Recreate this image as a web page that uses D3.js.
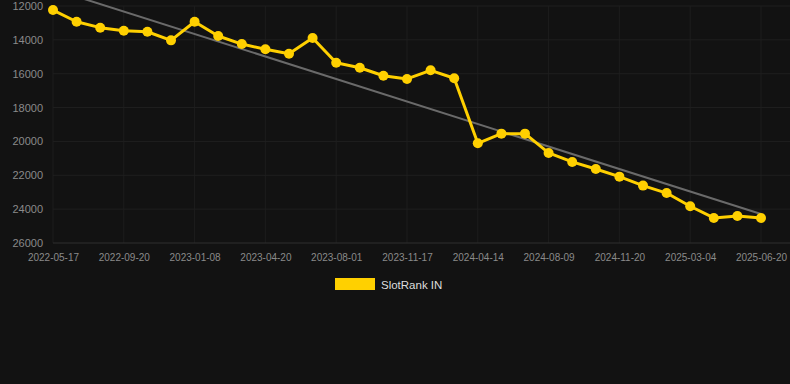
<!DOCTYPE html>
<html>
<head>
<meta charset="utf-8">
<script src="https://cdn.jsdelivr.net/npm/d3@7"></script>
<style>
  html, body { margin: 0; padding: 0; background: #121212; }
  svg { display: block; font-family: "Liberation Sans", Arial, sans-serif; }
</style>
</head>
<body>
<svg id="chart" width="790" height="384"></svg>
<script>
"use strict";

const dates = [
   '2022-05-17', '2022-06-28', '2022-08-09', '2022-09-20', '2022-10-25', '2022-12-01',
   '2023-01-08', '2023-02-12', '2023-03-18', '2023-04-20', '2023-05-25', '2023-06-28',
   '2023-08-01', '2023-09-05', '2023-10-12', '2023-11-17', '2024-01-05', '2024-02-25',
   '2024-04-14', '2024-05-23', '2024-07-01', '2024-08-09', '2024-09-12', '2024-10-16',
   '2024-11-20', '2024-12-24', '2025-01-28', '2025-03-04', '2025-04-08', '2025-05-14',
   '2025-06-20'
]
const ranks = [
   12240, 12930, 13280, 13460, 13520, 14030,
   12930, 13770, 14250, 14560, 14820, 13890,
   15350, 15650, 16120, 16310, 15800, 16270,
   20110, 19540, 19540, 20680, 21210, 21630,
   22080, 22610, 23050, 23830, 24520, 24400,
   24520
]
const y_ticks = [12000, 14000, 16000, 18000, 20000, 22000, 24000, 26000]
const series_name = 'SlotRank IN'

const m_left = 53, m_right = 761, m_top = 6, m_bottom = 243

const x = d3.scalePoint()
   .domain(dates)
   .range([m_left, m_right])

const y = d3.scaleLinear()
   .domain([12000, 26000])
   .range([m_top, m_bottom])

const svg = d3.select('#chart')

svg.append('rect')
   .attr('width', 790).attr('height', 384)
   .attr('fill', '#121212')

// grid
const x_labels = dates.filter((d, i) => i % 3 == 0)
svg.append('g')
   .selectAll('line')
   .data(x_labels)
   .enter().append('line')
      .attr('x1', d => x(d)).attr('x2', d => x(d))
      .attr('y1', m_top).attr('y2', m_bottom)
      .attr('stroke', '#1d1d1d')
svg.append('g')
   .selectAll('line')
   .data(y_ticks)
   .enter().append('line')
      .attr('x1', m_left).attr('x2', 790)
      .attr('y1', d => y(d)).attr('y2', d => y(d))
      .attr('stroke', d => d == 26000 ? '#2e2e2e' : '#1f1f1f')

// axes
let y_axis = svg.append('g')
   .attr('transform', `translate(${m_left}, 0)`)
   .call(d3.axisLeft(y).tickValues(y_ticks).tickFormat(d3.format('d')).tickSize(0).tickPadding(10))
y_axis.select('.domain').remove()
y_axis.selectAll('text')
   .attr('fill', '#8a8a8a')
   .style('font-size', '11px')

let x_axis = svg.append('g')
   .attr('transform', `translate(0, ${m_bottom})`)
   .call(d3.axisBottom(x).tickValues(x_labels).tickSize(0).tickPadding(11))
x_axis.select('.domain').remove()
x_axis.selectAll('text')
   .attr('fill', '#8a8a8a')
   .style('font-size', '10px')

// trend line (least squares over index)
const n = ranks.length
const mx = d3.mean(d3.range(n)), my = d3.mean(ranks)
const slope = d3.sum(ranks, (v, i) => (i - mx) * (v - my)) / d3.sum(d3.range(n), i => (i - mx) ** 2)
const icept = my - slope * mx
svg.append('line')
   .attr('x1', x(dates[0])).attr('y1', y(icept))
   .attr('x2', x(dates[n - 1])).attr('y2', y(icept + slope * (n - 1)))
   .attr('stroke', '#6a6a6a')
   .attr('stroke-width', 2)

// series
const line = d3.line()
   .x((d, i) => x(dates[i]))
   .y(d => y(d))
svg.append('path')
   .datum(ranks)
   .attr('fill', 'none')
   .attr('stroke', '#ffd000')
   .attr('stroke-width', 3)
   .attr('stroke-linejoin', 'round')
   .attr('d', line)
svg.append('g')
   .selectAll('circle')
   .data(ranks)
   .enter().append('circle')
      .attr('cx', (d, i) => x(dates[i]))
      .attr('cy', d => y(d))
      .attr('r', 5)
      .attr('fill', '#ffd000')

// legend
svg.append('rect')
   .attr('x', 335).attr('y', 278)
   .attr('width', 40).attr('height', 12)
   .attr('fill', '#ffd000')
svg.append('text')
   .attr('x', 381).attr('y', 288.5)
   .attr('fill', '#dddddd')
   .style('font-size', '11.5px')
   .text(series_name)
</script>
</body>
</html>
